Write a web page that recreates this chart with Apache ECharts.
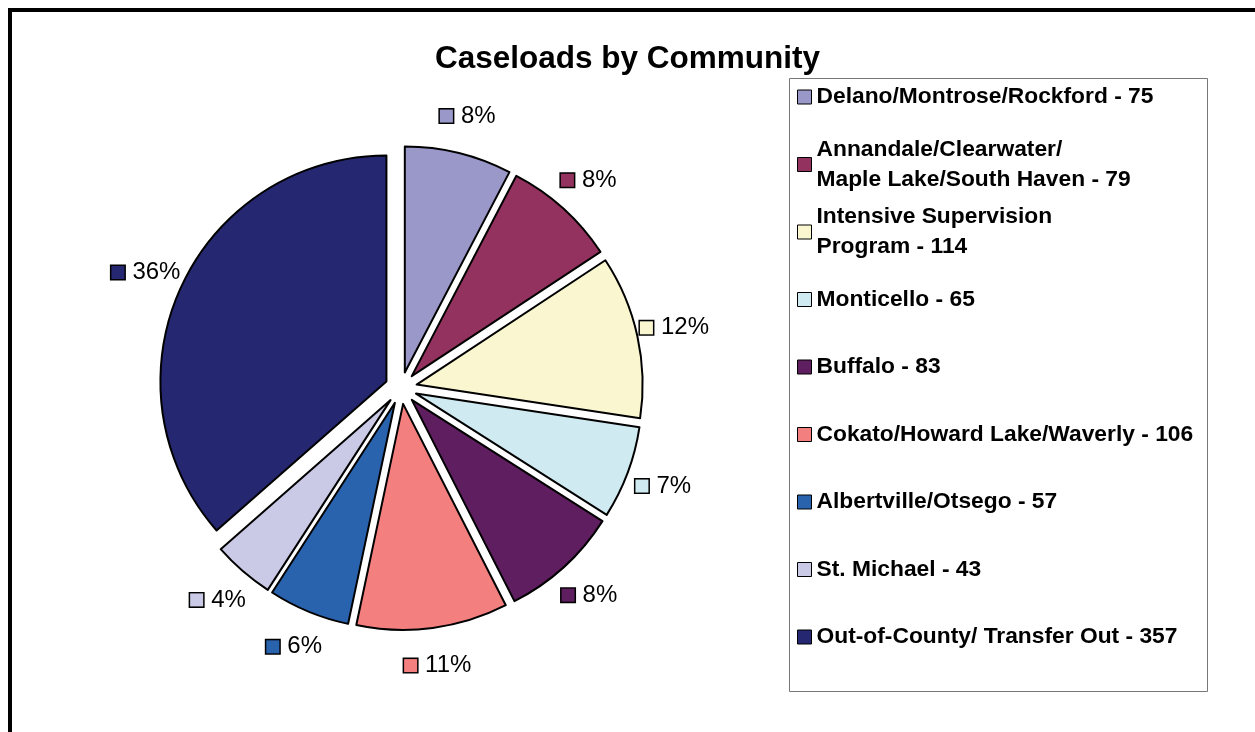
<!DOCTYPE html>
<html><head><meta charset="utf-8">
<script src="https://cdn.jsdelivr.net/npm/echarts@6/dist/echarts.min.js"></script>
<style>html,body{margin:0;padding:0;background:#fff}#c{width:1255px;height:732px}</style>
</head><body><div id="c"></div>
<script>
const titleText = 'Caseloads by Community';
const categories = ['Delano/Montrose/Rockford', 'Annandale/Clearwater/\nMaple Lake/South Haven', 'Intensive Supervision\nProgram', 'Monticello', 'Buffalo', 'Cokato/Howard Lake/Waverly', 'Albertville/Otsego', 'St. Michael', 'Out-of-County/ Transfer Out'];
const caseloads = [75, 79, 114, 65, 83, 106, 57, 43, 357];
const colors = ['#9A97C9', '#94325F', '#FAF7D0', '#CFEAF0', '#5F1E5F', '#F47F7F', '#2962AD', '#CBCAE6', '#252770'];

const FONT = '"Liberation Sans", Arial, sans-serif';
const chart = echarts.init(document.getElementById('c'), null, {renderer: 'canvas'});

const rich = { t: { fontSize: 24, fontFamily: FONT, color: '#000', padding: [0, 0, 0, 8] } };
colors.forEach((c, i) => {
  rich['s' + i] = { width: 13, height: 13, backgroundColor: c, borderColor: '#000', borderWidth: 1.5 };
});

const LH = 30;
const legends = categories.map((name, i) => {
  const lines = name.split('\n').length;
  const center = 97 + i * 67.5;
  const boxH = (2 * lines - 1) * LH;
  return {
    data: [name],
    left: 797,
    top: center - boxH / 2,
    orient: 'vertical',
    padding: 0,
    itemWidth: 14,
    itemHeight: 14,
    selectedMode: false,
    icon: 'rect',
    itemStyle: { borderColor: '#000', borderWidth: 1 },
    formatter: (n) => n + ' - ' + caseloads[categories.indexOf(n)],
    textStyle: { fontFamily: FONT, fontWeight: 'bold', fontSize: 22.8, color: '#000', lineHeight: LH, padding: [(lines - 1) * LH, 0, 0, 0] }
  };
});

chart.setOption({
  animation: false,
  color: colors,
  title: {
    text: titleText, left: 'center', top: 43, padding: 0,
    textStyle: { fontFamily: FONT, fontWeight: 'bold', fontSize: 31.5, color: '#000' }
  },
  legend: legends,
  graphic: [
    { type: 'rect', shape: { x: 10, y: 10, width: 1400, height: 900 }, style: { fill: 'none', stroke: '#000', lineWidth: 4 }, silent: true },
    { type: 'rect', shape: { x: 789.5, y: 78.5, width: 418, height: 613 }, style: { fill: 'none', stroke: '#777', lineWidth: 1 }, silent: true }
  ],
  series: [{
    type: 'pie',
    center: [401, 388],
    radius: 226,
    startAngle: 90,
    clockwise: true,
    percentPrecision: 0,
    selectedMode: 'multiple',
    selectedOffset: 16,
    avoidLabelOverlap: false,
    emphasis: { disabled: true },
    itemStyle: { borderColor: '#000', borderWidth: 2 },
    select: { itemStyle: { borderColor: '#000', borderWidth: 2 } },
    label: {
      show: true, position: 'outside', distanceToLabelLine: 0,
      formatter: (p) => '{s' + p.dataIndex + '|}{t|' + p.percent + '%}',
      rich: rich
    },
    labelLine: { show: false, length: 38, length2: 0 },
    labelLayout: () => ({ align: 'center', verticalAlign: 'middle' }),
    data: categories.map((n, i) => ({ name: n, value: caseloads[i], selected: true }))
  }]
});
</script></body></html>
